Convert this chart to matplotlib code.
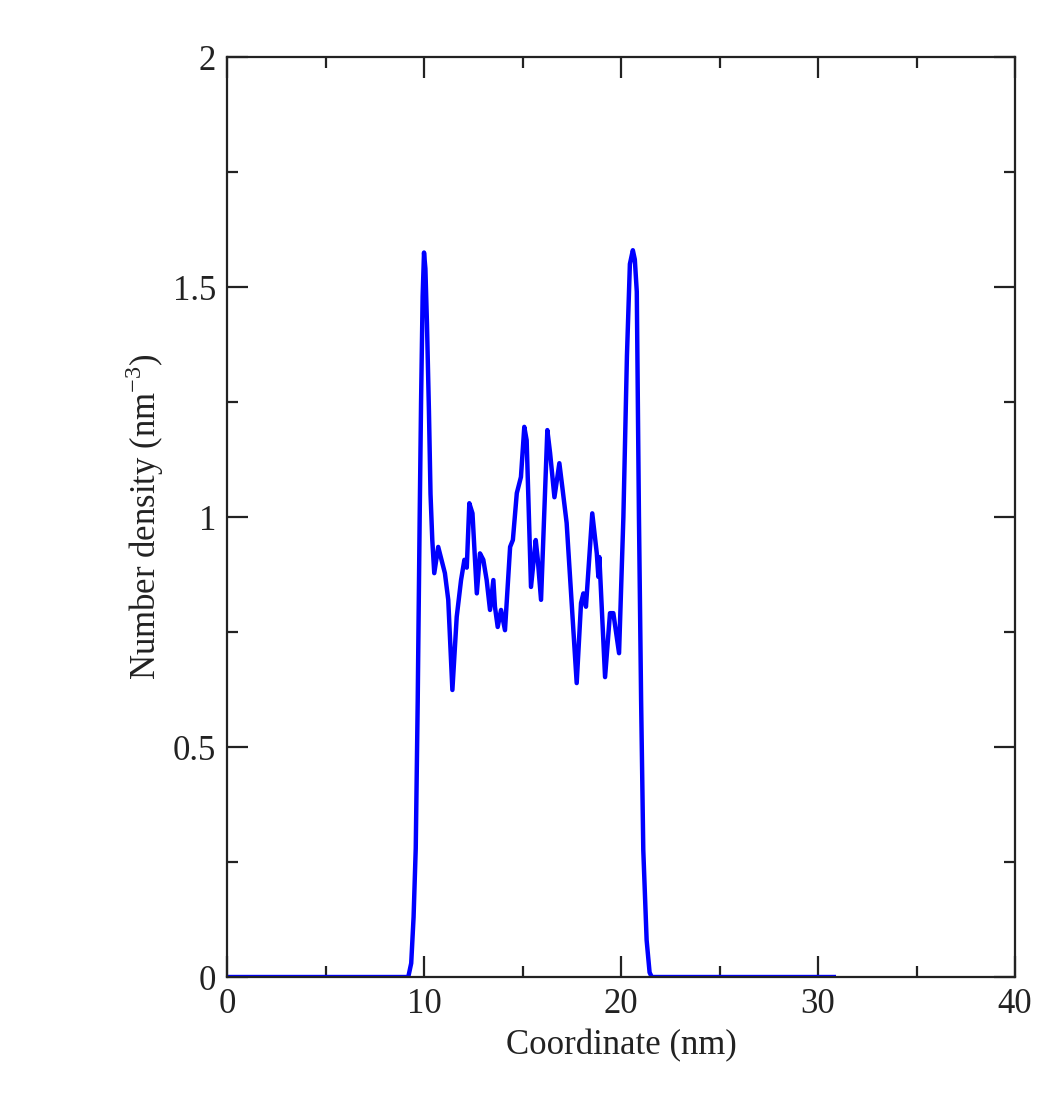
import matplotlib
matplotlib.use('Agg')
import matplotlib.pyplot as plt
from matplotlib.ticker import MultipleLocator

plt.rcParams['font.family'] = ['Liberation Serif', 'DejaVu Serif']
plt.rcParams['mathtext.fontset'] = 'custom'
plt.rcParams['mathtext.rm'] = 'Liberation Serif'

# density profile
coord = [0.0, 9.2, 9.35, 9.47, 9.58, 9.68, 9.78, 9.85, 9.93, 10.0, 10.07, 10.15,
         10.25, 10.33, 10.42, 10.52, 10.72, 11.06, 11.23, 11.44, 11.66, 11.88,
         12.05, 12.17, 12.30, 12.46, 12.68, 12.84, 13.01, 13.18, 13.35, 13.52,
         13.60, 13.74, 13.91, 14.11, 14.37, 14.51, 14.71, 14.92, 15.09, 15.21,
         15.43, 15.67, 15.77, 15.94, 16.26, 16.40, 16.62, 16.87, 17.02, 17.24,
         17.75, 17.97, 18.09, 18.22, 18.54, 18.77, 18.85, 18.90, 19.19, 19.44,
         19.61, 19.90, 20.12, 20.30, 20.45, 20.60, 20.70, 20.80, 20.91, 21.02,
         21.13, 21.30, 21.45, 21.56, 30.8]
density = [0.0, 0.0, 0.03, 0.13, 0.28, 0.60, 1.00, 1.25, 1.48, 1.575, 1.54, 1.42,
           1.23, 1.05, 0.95, 0.878, 0.935, 0.878, 0.82, 0.624, 0.783, 0.863,
           0.907, 0.89, 1.03, 1.008, 0.834, 0.921, 0.907, 0.863, 0.798, 0.863,
           0.805, 0.761, 0.798, 0.754, 0.935, 0.95, 1.052, 1.087, 1.196, 1.167,
           0.848, 0.95, 0.91, 0.82, 1.189, 1.139, 1.043, 1.117, 1.065, 0.987,
           0.639, 0.813, 0.834, 0.805, 1.008, 0.921, 0.87, 0.913, 0.652, 0.791,
           0.791, 0.704, 1.0, 1.35, 1.55, 1.58, 1.56, 1.49, 1.0, 0.6,
           0.276, 0.08, 0.01, 0.0, 0.0]

fig = plt.figure(figsize=(10.5, 11.01), dpi=100)
ax = fig.add_axes([0.2162, 0.1126, 0.7505, 0.8356])
ax.plot(coord, density, color='#0000ff', lw=3.2, solid_joinstyle='round')

ax.set_xlim(0, 40)
ax.set_ylim(0, 2)
ax.xaxis.set_major_locator(MultipleLocator(10))
ax.xaxis.set_minor_locator(MultipleLocator(5))
ax.yaxis.set_major_locator(MultipleLocator(0.5))
ax.yaxis.set_minor_locator(MultipleLocator(0.25))
ax.set_yticks([0, 0.5, 1, 1.5, 2])
ax.set_yticklabels(['0', '0.5', '1', '1.5', '2'])
ax.tick_params(which='both', direction='in', top=True, right=True,
               width=1.6, labelsize=25, colors='#222222')
ax.tick_params(which='major', length=15, pad=8)
ax.tick_params(which='minor', length=8)
for s in ax.spines.values():
    s.set_linewidth(1.6)
    s.set_color('#222222')

ax.set_xlabel('Coordinate (nm)', fontsize=25, labelpad=6, color='#222222')
ax.set_ylabel('Number density (nm$^{-3}$)', fontsize=25, labelpad=5, color='#222222')

fig.savefig('out.png', dpi=100, facecolor='white')
